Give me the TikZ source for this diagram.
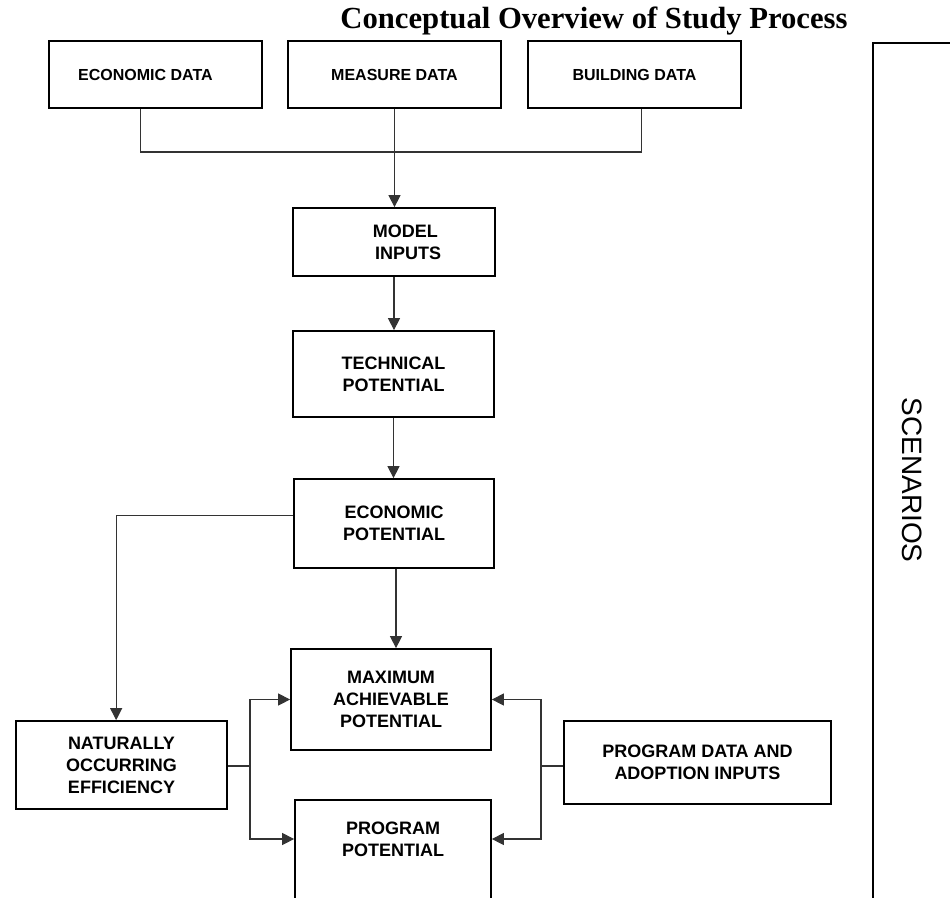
\documentclass[tikz,border=0pt]{standalone}
\usepackage{fontspec}
\setmainfont{Liberation Serif}
\setsansfont{Liberation Sans}
\usetikzlibrary{arrows.meta}

\begin{document}
\begin{tikzpicture}[x=0.75pt,y=0.75pt,yscale=-1,xscale=1,
  boxtext/.style={align=center, font=\sffamily\bfseries\fontsize{13.5}{16.5}\selectfont},
  stagebox/.style={boxtext, draw, line width=1.3pt, inner sep=0pt},
  databox/.style={stagebox, minimum width=159.75pt, minimum height=50.25pt,
    font=\sffamily\bfseries\fontsize{12}{14}\selectfont},
  link/.style={line width=0.8pt, black!80},
  flow/.style={link, -{Triangle[length=9pt,width=9pt]}}]
  \useasboundingbox (0,0) rectangle (950,897);
  \clip (0,0) rectangle (950,897);

  % Title
  \node[font=\bfseries\fontsize{23}{27}\selectfont] (title) at (594,21) {Conceptual Overview of Study Process};

  % Data boxes
  \node[databox] (ecodata) at (155.5,74.5) {ECONOMIC DATA\hspace*{15pt}};
  \node[databox] (measdata) at (394.5,74.5) {MEASURE DATA};
  \node[databox] (blddata) at (634.5,74.5) {BUILDING DATA};

  % Stage boxes
  \node[stagebox, minimum width=151.5pt, minimum height=51pt] (modelin) at (394,242) {\hspace*{17pt}MODEL\\\hspace*{21pt}INPUTS};
  \node[stagebox, minimum width=150.75pt, minimum height=64.5pt] (techpot) at (393.5,374) {TECHNICAL\\POTENTIAL};
  \node[stagebox, minimum width=150pt, minimum height=66.75pt] (econpot) at (394,523.5) {ECONOMIC\\POTENTIAL};
  \node[stagebox, minimum width=150pt, minimum height=75.75pt] (maxpot) at (391,699.5) {MAXIMUM\\ACHIEVABLE\\POTENTIAL};
  \node[stagebox, minimum width=158.25pt, minimum height=66pt] (natocc) at (121.5,765) {NATURALLY\\OCCURRING\\EFFICIENCY};
  \node[stagebox, minimum width=200.25pt, minimum height=62.25pt] (progdata) at (697.5,762.5) {PROGRAM DATA AND\\ADOPTION INPUTS};
  % program potential runs off the page
  \node[stagebox, minimum width=147pt, minimum height=90pt, anchor=north] (progpot) at (393,799) {};
  \node[boxtext] (progtxt) at (393,839) {PROGRAM\\POTENTIAL};

  % Scenarios strip
  \node[draw, line width=1.3pt, inner sep=0pt, minimum width=150pt, minimum height=690pt, anchor=north west] (scen) at (872,42) {};
  \node[font=\sffamily\fontsize{21}{24}\selectfont, rotate=-90] (scentxt) at (912,480) {SCENARIOS};

  %Straight Lines
  \coordinate (topbus) at (394,152);
  \draw[link] ([xshift=-11.6pt]ecodata.south) |- (topbus) -| ([xshift=4.9pt]blddata.south);
  \draw[flow] (measdata.south) -- (measdata.south |- modelin.north);
  \draw[flow] (modelin.south) -- (modelin.south |- techpot.north);
  \draw[flow] (techpot.south) -- (techpot.south |- econpot.north);
  \draw[flow] ([xshift=1.5pt]econpot.south) -- ([xshift=1.5pt]econpot.south |- maxpot.north);
  \draw[flow] ([yshift=-6pt]econpot.west) -| ([xshift=-4pt]natocc.north);

  \coordinate (leftjoin) at (250,766);
  \draw[link] (natocc.east |- leftjoin) -- (leftjoin);
  \draw[flow] (leftjoin) |- (maxpot.west);
  \draw[flow] (leftjoin) |- (progpot.west |- progtxt);

  \coordinate (rightjoin) at (541,766);
  \draw[link] (progdata.west |- rightjoin) -- (rightjoin);
  \draw[flow] (rightjoin) |- (maxpot.east);
  \draw[flow] (rightjoin) |- (progpot.east |- progtxt);
\end{tikzpicture}
\end{document}
